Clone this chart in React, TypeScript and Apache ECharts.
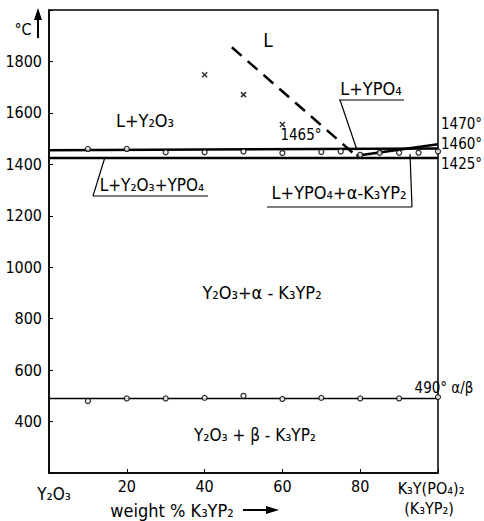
import React, { useEffect, useRef } from "react";
import * as echarts from "echarts";

const FONT = "'DejaVu Sans Condensed','DejaVu Sans',sans-serif";

// axes
const xMin = 0;
const xMax = 100;
const yMin = 200;
const yMax = 2000;
const xTickLabels = ["", "20", "40", "60", "80", ""];
const yTickShown = [400, 600, 800, 1000, 1200, 1400, 1600, 1800];

// phase boundaries (weight % K3YP2, °C)
const upperSolidus = [[0, 1455], [100, 1462]];
const lowerSolidus = [[0, 1425], [100, 1425]];
const ypo4Liquidus = [[79, 1433], [100, 1478]];
const y2o3Liquidus = [[47, 1855], [79, 1433]];
const transitionLine = [[0, 490], [100, 490]];

// measured points
const highTempPoints = [
  [10, 1460], [20, 1460], [30, 1447], [40, 1447], [50, 1450], [60, 1444],
  [70, 1448], [75, 1450], [80, 1437], [85, 1445], [90, 1445], [95, 1445], [100, 1450],
];
const lowTempPoints = [
  [10, 480], [20, 490], [30, 490], [40, 492], [50, 500], [60, 488],
  [70, 492], [80, 490], [90, 490], [100, 495],
];
const meltPoints = [[40, 1748], [50, 1671], [60, 1555]];

function txt(text: string, x: number, y: number, size = 16, align = "center") {
  return {
    type: "text",
    x,
    y,
    silent: true,
    style: {
      text,
      fontSize: size,
      fontFamily: FONT,
      fill: "#000",
      textAlign: align,
      textVerticalAlign: "middle",
      align,
      verticalAlign: "middle",
    },
  };
}

function seg(x1: number, y1: number, x2: number, y2: number, w = 1.2) {
  return {
    type: "line",
    silent: true,
    shape: { x1, y1, x2, y2 },
    style: { stroke: "#000", lineWidth: w },
  };
}

export default function App() {
  const ref = useRef<HTMLDivElement>(null);
  useEffect(() => {
    document.body.style.margin = "0";
    const chart = echarts.init(ref.current!, undefined, { renderer: "svg" });
    const lineSeries = (data: number[][], w: number, dashed = false) => ({
      type: "line",
      data,
      symbol: "none",
      lineStyle: { color: "#000", width: w, type: dashed ? [13, 8] : "solid" },
      silent: true,
      z: 2,
    });
    chart.setOption({
      animation: false,
      backgroundColor: "#fff",
      grid: {
        left: 49,
        right: 46,
        top: 10,
        bottom: 48,
        show: true,
        borderColor: "#000",
        borderWidth: 1.5,
        backgroundColor: "transparent",
      },
      xAxis: {
        type: "value",
        min: xMin,
        max: xMax,
        interval: 20,
        splitLine: { show: false },
        axisLine: { lineStyle: { color: "#000", width: 1.5 } },
        axisTick: { inside: true, length: 4, lineStyle: { color: "#000" } },
        axisLabel: {
          color: "#000",
          fontSize: 16,
          fontFamily: FONT,
          margin: 5,
          formatter: (v: number) => xTickLabels[Math.round(v / 20)] ?? "",
        },
      },
      yAxis: {
        type: "value",
        min: yMin,
        max: yMax,
        interval: 200,
        splitLine: { show: false },
        axisLine: { lineStyle: { color: "#000", width: 1.5 } },
        axisTick: { inside: true, length: 4, lineStyle: { color: "#000" } },
        axisLabel: {
          color: "#000",
          fontSize: 16,
          fontFamily: FONT,
          margin: 7,
          formatter: (v: number) => (yTickShown.includes(v) ? String(v) : ""),
        },
      },
      series: [
        lineSeries(upperSolidus, 2.5),
        lineSeries(lowerSolidus, 2.5),
        lineSeries(ypo4Liquidus, 2.5),
        lineSeries(y2o3Liquidus, 2.5, true),
        lineSeries(transitionLine, 1.5),
        {
          type: "scatter",
          data: highTempPoints,
          symbol: "circle",
          symbolSize: 5,
          itemStyle: { color: "#fff", borderColor: "#000", borderWidth: 1.3 },
          silent: true,
          z: 3,
        },
        {
          type: "scatter",
          data: lowTempPoints,
          symbol: "circle",
          symbolSize: 5,
          itemStyle: { color: "#fff", borderColor: "#000", borderWidth: 1.3 },
          silent: true,
          z: 3,
        },
        {
          type: "scatter",
          data: meltPoints,
          symbol: "path://M0,0L10,10M10,0L0,10",
          symbolSize: 5,
          itemStyle: { color: "none", borderColor: "#000", borderWidth: 1.5 },
          silent: true,
          z: 3,
        },
      ],
      graphic: [
        // unit and arrow
        txt("°C", 23, 29, 16),
        seg(38, 38, 38, 17, 2),
        {
          type: "polygon",
          silent: true,
          shape: { points: [[34, 20], [42, 20], [38, 8]] },
          style: { fill: "#000" },
        },
        // region labels
        txt("L", 268, 40, 19),
        txt("L+Y₂O₃", 145, 120, 18),
        txt("L+YPO₄", 371, 88, 18),
        seg(339, 100, 404, 100),
        seg(340, 100, 357, 150),
        txt("1465°", 301, 135, 15),
        txt("1470°", 441, 124, 15, "left"),
        txt("1460°", 441, 144, 15, "left"),
        txt("1425°", 441, 164, 15, "left"),
        txt("L+Y₂O₃+YPO₄", 152, 185, 17),
        seg(93, 196, 208, 196),
        seg(93, 196, 105, 157),
        txt("L+YPO₄+α-K₃YP₂", 339, 192, 18),
        seg(267, 207, 412, 207),
        seg(412, 207, 410, 154),
        txt("Y₂O₃+α - K₃YP₂", 262, 292, 18),
        txt("490° α/β", 444, 388, 15),
        txt("Y₂O₃ + β - K₃YP₂", 255, 435, 17),
        // axis end labels
        txt("Y₂O₃", 54, 494, 17),
        txt("K₃Y(PO₄)₂", 431, 488, 16),
        txt("(K₃YP₂)", 429, 508, 16),
        txt("weight % K₃YP₂", 172, 510, 18),
        seg(243, 510, 270, 510, 2),
        {
          type: "polygon",
          silent: true,
          shape: { points: [[266, 506], [279, 510], [266, 514]] },
          style: { fill: "#000" },
        },
      ],
    });
    return () => chart.dispose();
  }, []);
  return (
    <div
      ref={ref}
      style={{ position: "absolute", left: 0, top: 0, width: 484, height: 521, background: "#fff" }}
    />
  );
}
